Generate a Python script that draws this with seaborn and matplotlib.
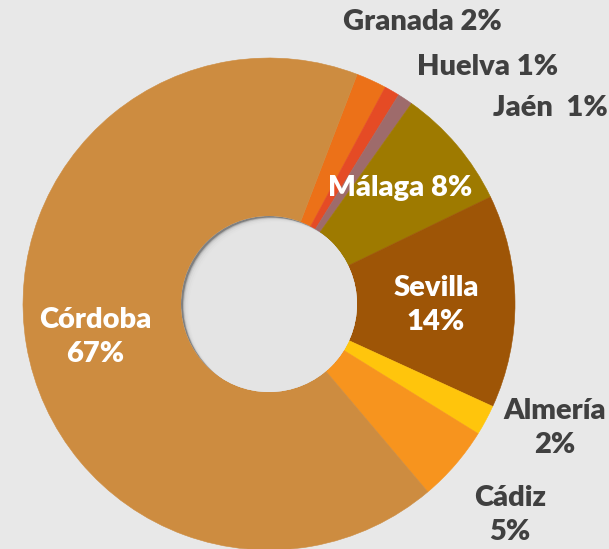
"""
Donut chart: share by province (Andalucía).
"""

import matplotlib
matplotlib.use("Agg")
import matplotlib.pyplot as plt
from matplotlib.patches import Circle
import seaborn as sns

# ---------------------------------------------------------------------------
# Data
# ---------------------------------------------------------------------------
PROVINCES = ["Granada", "Huelva", "Jaén", "Málaga", "Sevilla", "Almería", "Cádiz", "Córdoba"]
SHARES    = [2, 1, 1, 8, 14, 2, 5, 67]
LABELS    = ["Granada 2%", "Huelva 1%", "Jaén  1%", "Málaga 8%",
             "Sevilla\n14%", "Almería\n2%", "Cádiz\n5%", "Córdoba\n67%"]

# ---------------------------------------------------------------------------
# Style
# ---------------------------------------------------------------------------
BG       = "#E8E8E8"
DARK     = "#404040"
WHITE    = "#FFFFFF"
COLORS   = ["#EC7118", "#E54B25", "#9E6B6B", "#9E7A00",
            "#9E5506", "#FFC50C", "#F7941E", "#CD8C40"]
# label placement (x, y in pie-radius units) and colour
LABEL_POS = [(0.622, 1.146), (0.890, 0.963), (1.142, 0.797), (0.533, 0.472),
             (0.679, -0.004), (1.163, -0.504), (0.980, -0.858), (-0.707, -0.134)]
LABEL_COL = [DARK, DARK, DARK, WHITE, WHITE, DARK, DARK, WHITE]

sns.set_theme(style="white")
plt.rcParams.update({
    "figure.facecolor": BG,
    "axes.facecolor":   BG,
})
plt.rcParams["font.family"] = ["Lato", "DejaVu Sans"]

R_PX = 246.0        # pie radius in pixels
HOLE = 88.0 / R_PX  # hole radius relative to pie

fig = plt.figure(figsize=(6.09, 5.49), dpi=100)
ax = fig.add_axes([0, 0, 1, 1])

wedges, _ = ax.pie(
    SHARES,
    colors=COLORS,
    startangle=69,
    counterclock=False,
    radius=1.0,
    wedgeprops=dict(width=1 - HOLE, linewidth=0),
    frame=True,
)
for w in wedges:
    w.set_edgecolor(w.get_facecolor())
    w.set_linewidth(0.4)

ax.set_xlim(-269 / R_PX, (609 - 269) / R_PX)
ax.set_ylim(-(549 - 304) / R_PX, 304 / R_PX)
ax.set_aspect("equal")
ax.axis("off")

# inner shadow inside the hole (top-left)
hole_clip = Circle((0, 0), HOLE, transform=ax.transData)
base = Circle((0, 0), HOLE, facecolor="#808080", edgecolor="none", zorder=3)
ax.add_patch(base)
base.set_clip_path(hole_clip)
for d in [10, 8, 6, 4.5, 3.5, 2.5]:
    off = d / R_PX
    c = Circle((off * 0.8, -off * 0.6), HOLE, facecolor=BG,
               edgecolor="none", alpha=0.45, zorder=4)
    ax.add_patch(c)
    c.set_clip_path(hole_clip)

for text, (x, y), col in zip(LABELS, LABEL_POS, LABEL_COL):
    ax.text(x, y, text, ha="center", va="center", color=col,
            fontsize=21, fontweight="heavy", linespacing=1.4, zorder=5)

fig.savefig("out.png", dpi=100, facecolor=BG)
